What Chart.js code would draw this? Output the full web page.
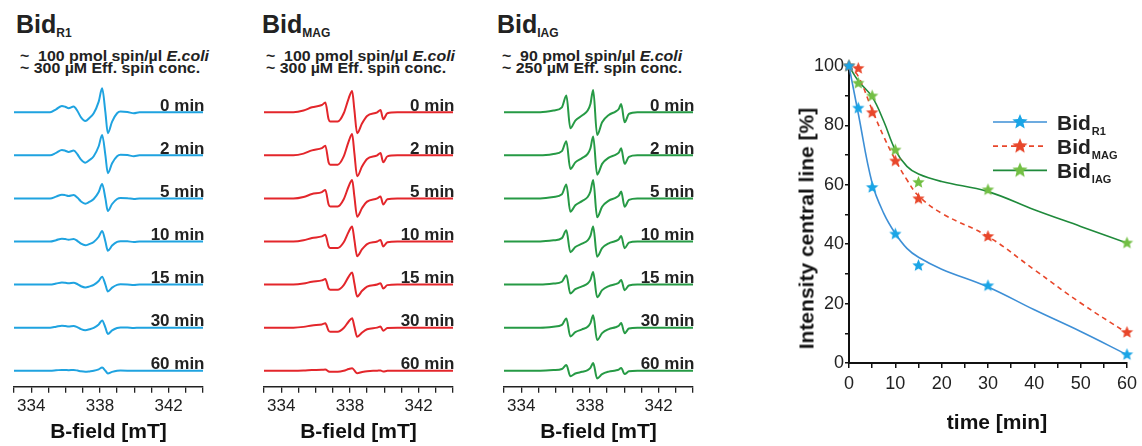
<!DOCTYPE html>
<html>
<head>
<meta charset="utf-8">
<script src="https://cdn.jsdelivr.net/npm/chart.js@4.4.1/dist/chart.umd.min.js"></script>
<style>
  body { margin: 0; width: 1142px; height: 446px; overflow: hidden; position: relative; background: #fff;
         font-family: "Liberation Sans", Arial, sans-serif; color: #222; }
  canvas { position: absolute; }
  .ttl { position: absolute; font-weight: bold; font-size: 25px; line-height: 25px; white-space: nowrap; }
  .ttl sub { font-size: 12px; line-height: 0; vertical-align: -4px; }
  .sub { position: absolute; font-weight: bold; font-size: 15px; line-height: 15px; white-space: nowrap;
         transform: scaleX(1.06); transform-origin: left center; }
  .axt { position: absolute; font-weight: bold; font-size: 21px; line-height: 21px; white-space: nowrap;
         text-align: center; color: #111; }
</style>
</head>
<body>
<div class="ttl" style="left:16px;top:12px">Bid<sub>R1</sub></div>
<div class="sub" style="left:20px;top:48px">~&nbsp; 100 pmol spin/µl <i>E.coli</i></div>
<div class="sub" style="left:20px;top:60px">~ 300 µM Eff. spin conc.</div>

<div class="ttl" style="left:262px;top:12px">Bid<sub>MAG</sub></div>
<div class="sub" style="left:266px;top:48px">~&nbsp; 100 pmol spin/µl <i>E.coli</i></div>
<div class="sub" style="left:266px;top:60px">~ 300 µM Eff. spin conc.</div>

<div class="ttl" style="left:497px;top:12px">Bid<sub>IAG</sub></div>
<div class="sub" style="left:502px;top:48px">~&nbsp; 90 pmol spin/µl <i>E.coli</i></div>
<div class="sub" style="left:502px;top:60px">~ 250 µM Eff. spin conc.</div>

<canvas id="specR1" width="209" height="376" style="left:4px;top:70px"></canvas>
<canvas id="specMAG" width="209" height="376" style="left:254px;top:70px"></canvas>
<canvas id="specIAG" width="209" height="376" style="left:494px;top:70px"></canvas>
<canvas id="decay" width="382" height="406" style="left:760px;top:40px"></canvas>

<div class="axt" style="left:897px;top:411px;width:200px">time [min]</div>
<div class="axt" style="left:656px;top:217.5px;width:300px;transform:rotate(-90deg)">Intensity central line [%]</div>

<script>
// ---- spectra: field [mT] and line shape of the 0 min trace, plus relative amplitude per time point
const timeLabels = ['0 min', '2 min', '5 min', '10 min', '15 min', '30 min', '60 min'];

const fieldR1 = [333, 335.1, 335.45, 335.79, 335.98, 336.18, 336.47, 336.7, 336.9, 337.15, 337.4, 337.64,
  337.93, 338.13, 338.32, 338.46, 338.71, 339.0, 339.2, 339.6, 339.98, 340.3, 344];
const shapeR1 = [0, 0, 3, 6.3, 5.5, 4, 5.7, 1, -5, -8.7, -5.5, -1, 10.7, 24, 0, -21, -9.3, -1, 0.7, 0.3, -1, 0, 0];
const ampR1 = [1, 0.85, 0.6, 0.44, 0.33, 0.3, 0.13];

const fieldMAG = [333, 334.71, 335.3, 335.79, 336.37, 336.57, 336.76, 336.86, 337.29, 337.64, 337.93, 338.13,
  338.26, 338.42, 338.71, 339.0, 339.59, 339.78, 339.94, 340.18, 340.76, 344];
const shapeMAG = [0, 0, 1.7, 5, 7.3, 9.7, -7, -9.3, -9.3, -1, 14, 21.3, 2.3, -21, -11, -3.7, 0, 2.3, -7, -1, 0, 0];
const ampMAG = [1, 1.0, 0.87, 0.7, 0.57, 0.44, 0.12];

const fieldIAG = [333, 335.11, 335.88, 336.37, 336.63, 336.86, 337.15, 337.54, 337.87, 338.03, 338.19, 338.42,
  338.71, 339.1, 339.49, 339.68, 339.82, 340.02, 340.27, 340.76, 344];
const shapeIAG = [0, 0, 1.7, 5, 16.7, -16, -8.3, -3.3, 1.7, 8.3, 22.3, -22.7, -10, -2.7, 0.7, 3.3, 8.3, -10, -1.7, 0, 0];
const ampIAG = [1, 0.85, 0.83, 0.67, 0.56, 0.55, 0.34];

const fieldTicks = [334, 338, 342];

// ---- decay of central line intensity
const times = [0, 2, 5, 10, 15, 30, 60];
const intensityR1 = [100, 85.8, 59.1, 43.4, 32.8, 26, 2.8];
const intensityMAG = [100, 99.2, 84.3, 68, 55.3, 42.6, 10.3];
const intensityIAG = [100, 94.2, 89.9, 71.7, 60.8, 58.3, 40.4];

// fitted curves as drawn in the figure
const fitTimes = [0, 2, 5, 7.5, 10, 12.5, 15, 20, 30, 40, 50, 60];
const fitR1 = [100, 84, 60.5, 50.4, 43.6, 38.6, 35.6, 31.6, 25.6, 17.9, 10.6, 2.8];
const fitMAG = [100, 96.5, 85.2, 76.2, 68.4, 61.7, 56.3, 50.4, 42.6, 31.4, 20.2, 10.1];
const fitIAG = [100, 95, 89.6, 81.4, 71.7, 66.2, 63.6, 61.1, 57.7, 51.6, 46, 40.4];

const seriesSubs = ['R1', 'MAG', 'IAG'];

const FONT = '"Liberation Sans", Arial, sans-serif';
Chart.defaults.font.family = FONT;
Chart.defaults.color = '#222';

const TRACE_BASE = 16, TRACE_GAP = 43.07, AREA_H = 306.7;
const traceBase = i => TRACE_BASE + TRACE_GAP * (timeLabels.length - 1 - i);

const minLabels = {
  id: 'minLabels',
  afterDatasetsDraw(chart) {
    const { ctx, chartArea, scales: { y } } = chart;
    ctx.save();
    ctx.font = 'bold 17px ' + FONT;
    ctx.fillStyle = '#222';
    ctx.textAlign = 'right';
    ctx.textBaseline = 'alphabetic';
    timeLabels.forEach((t, i) => ctx.fillText(t, chartArea.right + 1.5, y.getPixelForValue(traceBase(i)) - 1.5));
    ctx.restore();
  }
};

function spectrumChart(id, field, shape, amps, color) {
  return new Chart(document.getElementById(id), {
    type: 'line',
    data: {
      datasets: amps.map((a, i) => ({
        data: field.map((b, k) => ({ x: b, y: traceBase(i) + shape[k] * a })),
        borderColor: color,
        borderWidth: 2,
        pointRadius: 0,
        cubicInterpolationMode: 'monotone',
        fill: false
      }))
    },
    options: {
      responsive: false,
      animation: false,
      devicePixelRatio: 1,
      layout: { padding: { left: 10, right: 10, top: 10, bottom: 0 } },
      plugins: { legend: { display: false }, tooltip: { enabled: false } },
      scales: {
        x: {
          type: 'linear', min: 333, max: 344,
          ticks: {
            stepSize: 1, autoSkip: false, maxRotation: 0, padding: 3,
            font: { size: 17 }, color: '#222',
            callback: v => fieldTicks.includes(v) ? String(v) : ''
          },
          grid: { drawOnChartArea: false, tickLength: 6, color: '#222', lineWidth: 1.3 },
          border: { color: '#222', width: 1.5 },
          title: { display: true, text: 'B-field [mT]', font: { size: 21, weight: 'bold' }, color: '#111',
                   padding: { top: 0, bottom: 1 } },
          afterFit: s => { s.height = 376 - 10 - AREA_H; }
        },
        y: { display: false, min: 0, max: AREA_H }
      }
    },
    plugins: [minLabels]
  });
}

spectrumChart('specR1', fieldR1, shapeR1, ampR1, '#1fa3e0');
spectrumChart('specMAG', fieldMAG, shapeMAG, ampMAG, '#e3262b');
spectrumChart('specIAG', fieldIAG, shapeIAG, ampIAG, '#269a45');

function starImage(color, r) {
  const c = document.createElement('canvas');
  const s = Math.ceil(r * 2 + 2);
  c.width = c.height = s;
  const g = c.getContext('2d');
  g.fillStyle = color;
  g.beginPath();
  for (let k = 0; k < 10; k++) {
    const rad = k % 2 ? r * 0.45 : r;
    const a = -Math.PI / 2 + k * Math.PI / 5;
    g.lineTo(s / 2 + rad * Math.cos(a), s / 2 + rad * Math.sin(a));
  }
  g.closePath();
  g.fill();
  return c;
}

const styles = [
  { line: '#3d8fd6', star: '#1aa5e6', dash: [] },
  { line: '#e8472b', star: '#e8472b', dash: [5, 4] },
  { line: '#1f8a3b', star: '#72bf44', dash: [] }
];

const seriesLegend = {
  id: 'seriesLegend',
  afterDraw(chart) {
    const { ctx, chartArea } = chart;
    const x0 = chartArea.left + 144, x1 = chartArea.left + 198, tx = chartArea.left + 208;
    ctx.save();
    seriesSubs.forEach((sub, i) => {
      const y = chartArea.top + 56 + 24.2 * i;
      const st = styles[i];
      ctx.strokeStyle = st.line;
      ctx.lineWidth = 1.7;
      ctx.setLineDash(st.dash);
      ctx.beginPath();
      ctx.moveTo(x0, y);
      ctx.lineTo(x1, y);
      ctx.stroke();
      ctx.setLineDash([]);
      const img = starImage(st.star, 8);
      ctx.drawImage(img, (x0 + x1) / 2 - img.width / 2, y - img.height / 2);
      ctx.fillStyle = '#222';
      ctx.textBaseline = 'alphabetic';
      ctx.textAlign = 'left';
      ctx.font = 'bold 21px ' + FONT;
      ctx.fillText('Bid', tx, y + 8);
      const w = ctx.measureText('Bid').width;
      ctx.font = 'bold 11px ' + FONT;
      ctx.fillText(sub, tx + w + 1, y + 13);
    });
    ctx.restore();
  }
};

const pairs = (xs, ys) => xs.map((x, k) => ({ x, y: ys[k] }));
const intensities = [intensityR1, intensityMAG, intensityIAG];
const fits = [fitR1, fitMAG, fitIAG];

new Chart(document.getElementById('decay'), {
  type: 'line',
  data: {
    datasets: [
      ...intensities.map((vals, i) => ({
        data: pairs(times, vals),
        showLine: false,
        pointStyle: starImage(styles[i].star, 6.5),
        pointRadius: 6,
        clip: 10
      })),
      ...fits.map((vals, i) => ({
        data: pairs(fitTimes, vals),
        borderColor: styles[i].line,
        borderDash: styles[i].dash,
        borderWidth: 1.6,
        pointRadius: 0,
        tension: 0.4,
        fill: false
      }))
    ]
  },
  options: {
    responsive: false,
    animation: false,
    devicePixelRatio: 1,
    layout: { padding: { left: 0, right: 14, top: 26, bottom: 0 } },
    plugins: { legend: { display: false }, tooltip: { enabled: false } },
    scales: {
      x: {
        type: 'linear', min: 0, max: 60,
        ticks: { stepSize: 5, autoSkip: false, maxRotation: 0, padding: 5, font: { size: 18 }, color: '#222',
                 callback: v => v % 10 === 0 ? String(v) : '' },
        grid: { drawOnChartArea: false, tickLength: 5, color: '#111', lineWidth: 1.5 },
        border: { color: '#111', width: 2 },
        afterFit: s => { s.height = 83; }
      },
      y: {
        min: 0, max: 100,
        ticks: { stepSize: 10, autoSkip: false, padding: 1, font: { size: 18 }, color: '#222',
                 callback: v => v % 20 === 0 ? String(v) : '' },
        grid: { drawOnChartArea: false, tickLength: 4, color: '#111', lineWidth: 1.5 },
        border: { color: '#111', width: 2 },
        afterFit: s => { s.width = 89; }
      }
    }
  },
  plugins: [seriesLegend]
});
</script>
</body>
</html>
